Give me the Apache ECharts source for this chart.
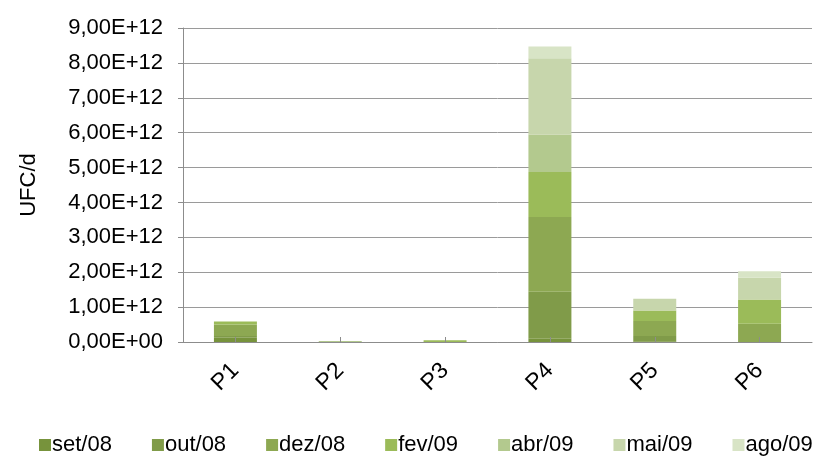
<!DOCTYPE html>
<html><head><meta charset="utf-8">
<script src="https://cdn.jsdelivr.net/npm/echarts@6/dist/echarts.min.js"></script>
<style>html,body{margin:0;padding:0;background:#fff}#c{width:819px;height:461px}</style>
</head><body><div id="c"></div>
<script>
const categories = ['P1','P2','P3','P4','P5','P6'];
const seriesNames = ['set/08','out/08','dez/08','fev/09','abr/09','mai/09','ago/09'];
const set08 = [0.12e12, 0, 0, 0.09e12, 0.02e12, 0];
const out08 = [0.05e12, 0, 0, 1.35e12, 0.15e12, 0];
const dez08 = [0.33e12, 0, 0, 2.14e12, 0.43e12, 0.52e12];
const fev09 = [0.09e12, 0, 0.05e12, 1.29e12, 0.30e12, 0.70e12];
const abr09 = [0, 0.03e12, 0, 1.08e12, 0, 0];
const mai09 = [0, 0, 0, 2.18e12, 0.34e12, 0.62e12];
const ago09 = [0, 0, 0, 0.34e12, 0, 0.19e12];
const yTickMax = 9e12, yTickInterval = 1e12;
const colors = ['#77933C','#809B49','#8DA852','#9BBB59','#B3C98E','#C7D6AC','#D8E4C6'];
const data = [set08,out08,dez08,fev09,abr09,mai09,ago09];

function fmt(v){
  if (v === 0) return '0,00E+00';
  const e = Math.floor(Math.log10(Math.abs(v)) + 1e-9);
  const m = v / Math.pow(10, e);
  return m.toFixed(2).replace('.', ',') + 'E+' + String(e).padStart(2,'0');
}
const font = 'Liberation Sans, Arial, sans-serif';
const chart = echarts.init(document.getElementById('c'));
chart.setOption({
  animation: false,
  color: colors,
  grid: {left: 183, top: 28, right: 7, bottom: 119, containLabel: false},
  legend: {
    bottom: 0, left: 34, right: 0, itemWidth: 12, itemHeight: 12, itemGap: 40,
    icon: 'rect',
    textStyle: {fontFamily: font, fontSize: 22, color: '#000', padding: [0,0,0,-4]},
    data: seriesNames
  },
  xAxis: {
    type: 'category', data: categories, z: 5,
    axisLine: {lineStyle: {color: '#8c8c8c', width: 1}},
    axisTick: {show: true, alignWithLabel: true, inside: true, length: 5, lineStyle: {color: '#8c8c8c'}},
    axisLabel: {rotate: 45, fontFamily: font, fontSize: 23, color: '#000', margin: 25}
  },
  yAxis: {
    type: 'value', min: 0, max: yTickMax, interval: yTickInterval,
    name: 'UFC/d', nameLocation: 'middle', nameGap: 143, nameRotate: 90,
    nameTextStyle: {fontFamily: font, fontSize: 22, color: '#000'},
    axisLine: {show: true, lineStyle: {color: '#8c8c8c'}},
    axisTick: {show: true, length: 5, lineStyle: {color: '#8c8c8c'}},
    splitLine: {lineStyle: {color: '#9a9a9a', width: 1}},
    axisLabel: {formatter: fmt, fontFamily: font, fontSize: 22, color: '#000', margin: 20}
  },
  series: seriesNames.map((n, i) => ({
    name: n, type: 'bar', stack: 'total', data: data[i], barWidth: '41%',
    itemStyle: {color: colors[i]}
  }))
});
</script></body></html>
